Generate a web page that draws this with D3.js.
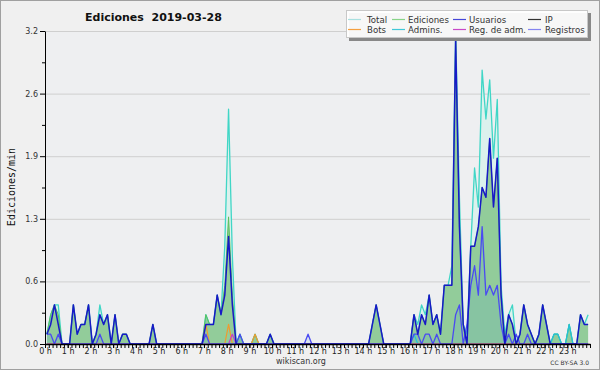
<!DOCTYPE html>
<html>
<head>
<meta charset="utf-8">
<script src="https://cdn.jsdelivr.net/npm/d3@7"></script>
<style>
  body { margin: 0; background: #fff; }
  svg { display: block; }
</style>
</head>
<body>
<svg id="chart" width="600" height="370"></svg>
<script>
// edits per minute, one value per 10 minutes (6 per hour)
let total = [
  .1,.3,.4,.4,0,0,  0,.4,.1,.2,.2,.4,  0,.1,.4,.2,.3,0,  .3,0,.1,.1,0,0,
  0,0,0,0,.2,0,  0,0,0,0,0,0,  0,0,0,0,0,0,  .3,.2,.2,.5,.3,1.0,
  2.4,.9,0,.1,0,0,  0,.1,0,0,0,.1,  0,0,0,0,0,0,  0,0,0,0,0,0,
  0,0,0,0,0,0,  0,0,0,0,0,0,  0,0,.2,.4,.2,0,  0,0,0,0,0,0,
  0,.3,.2,.4,.3,.5,  .2,.3,.1,.6,.6,.8,  3.2,1.5,.2,.1,1.0,1.8,  1.4,2.8,2.3,2.7,1.9,2.5,
  .6,.1,.3,.4,0,.1,  .4,.2,.1,0,.1,.4,  .2,0,.1,.1,0,0,  .2,0,0,.3,.2,.3
];
let edits = [
  .1,.3,.4,.3,0,0,  0,.4,.1,.2,.2,.4,  0,.1,.3,.2,.3,0,  .3,0,.1,.1,0,0,
  0,0,0,0,.2,0,  0,0,0,0,0,0,  0,0,0,0,0,0,  .3,.2,.2,.5,.3,.6,
  1.3,.5,0,.1,0,0,  0,.1,0,0,0,.1,  0,0,0,0,0,0,  0,0,0,0,0,0,
  0,0,0,0,0,0,  0,0,0,0,0,0,  0,0,.2,.4,.2,0,  0,0,0,0,0,0,
  0,.3,.1,.3,.2,.5,  .2,.3,.1,.6,.6,.6,  3.1,1.2,.2,0,1.0,1.0,  1.2,1.6,1.5,2.1,1.4,1.9,
  .5,0,.3,.2,0,.1,  .4,.2,.1,0,.1,.4,  .2,0,.1,.1,0,0,  .2,0,0,.3,.2,.2
];
let users = [
  .1,.2,.4,.2,0,0,  0,.4,.1,.2,.2,.4,  0,.1,.3,.2,.3,0,  .3,0,.1,.1,0,0,
  0,0,0,0,.2,0,  0,0,0,0,0,0,  0,0,0,0,0,0,  .2,.2,.2,.5,.3,.5,
  1.1,.4,0,0,0,0,  0,0,0,0,0,.1,  0,0,0,0,0,0,  0,0,0,0,0,0,
  0,0,0,0,0,0,  0,0,0,0,0,0,  0,0,.2,.4,.2,0,  0,0,0,0,0,0,
  0,.3,.1,.3,.2,.5,  .2,.3,.1,.6,.6,.6,  3.1,1.2,.2,0,1.0,1.0,  1.2,1.6,1.5,2.1,1.4,1.9,
  .5,0,.3,.2,0,.1,  .4,.2,.1,0,.1,.4,  .2,0,0,0,0,0,  0,0,0,.3,.2,.2
];
let ip = [
  .1,.1,0,.1,0,0,  0,0,0,0,0,0,  0,0,.1,0,0,0,  0,0,0,0,0,0,
  0,0,0,0,0,0,  0,0,0,0,0,0,  0,0,0,0,0,0,  .1,0,0,0,0,0,
  0,0,0,.1,0,0,  0,0,0,0,0,0,  0,0,0,0,0,0,  0,0,0,.1,0,0,
  0,0,0,0,0,0,  0,0,0,0,0,0,  0,0,0,0,0,0,  0,0,0,0,0,0,
  0,.1,.1,0,.1,.1,  0,.1,0,0,0,0,  .3,.4,0,.2,.6,.8,  .5,1.2,.5,.6,.5,.6,
  .2,0,.1,0,.1,0,  0,.1,0,0,0,0,  0,0,0,0,0,0,  0,0,0,0,0,0
];
let bots = [
  0,0,0,0,0,0,  0,0,0,0,0,0,  0,0,0,0,0,0,  0,0,0,0,0,0,
  0,0,0,0,0,0,  0,0,0,0,0,0,  0,0,0,0,0,0,  .2,0,0,0,0,0,
  .2,0,0,0,0,0,  0,.1,0,0,0,0,  0,0,0,0,0,0,  0,0,0,0,0,0,
  0,0,0,0,0,0,  0,0,0,0,0,0,  0,0,0,0,0,0,  0,0,0,0,0,0,
  0,0,0,0,0,0,  0,0,0,0,0,0,  0,0,0,0,0,0,  0,0,0,0,0,0,
  0,0,0,0,0,0,  0,0,0,0,0,0,  0,0,0,0,0,0,  0,0,0,0,0,0
];
let admins = [
  0,0,0,0,0,0,  0,0,0,0,0,0,  0,0,0,0,0,0,  0,0,0,0,0,0,
  0,0,0,0,0,0,  0,0,0,0,0,0,  0,0,0,0,0,0,  0,0,0,0,0,0,
  0,0,0,0,0,0,  0,0,0,0,0,0,  0,0,0,0,0,0,  0,0,0,0,0,0,
  0,0,0,0,0,0,  0,0,0,0,0,0,  0,0,0,0,0,0,  0,0,0,0,0,0,
  0,.1,0,0,0,0,  0,0,0,0,0,0,  0,0,0,0,0,0,  0,0,0,0,0,0,
  0,0,0,0,0,0,  0,0,0,0,0,0,  0,0,.1,.1,0,0,  .2,0,0,0,0,0
];
let regAdm = [
  0,0,0,0,0,0,  0,0,0,0,0,0,  0,0,0,0,0,0,  0,0,0,0,0,0,
  0,0,0,0,0,0,  0,0,0,0,0,0,  0,0,0,0,0,0,  0,0,0,0,0,0,
  0,.1,0,0,0,0,  0,0,0,0,0,0,  0,0,0,0,0,0,  0,0,0,0,0,0,
  0,0,0,0,0,0,  0,0,0,0,0,0,  0,0,0,0,0,0,  0,0,0,0,0,0,
  0,0,0,0,0,0,  0,0,0,0,0,0,  0,0,0,0,0,0,  0,0,0,0,0,0,
  0,0,0,0,0,0,  0,0,0,0,0,0,  0,0,0,0,0,0,  0,0,0,0,0,0
];

let yTicks = [0, 0.64, 1.28, 1.92, 2.56, 3.2];
let hours = d3.range(0, 24);
let legendNames = ['Total', 'Ediciones', 'Usuarios', 'IP', 'Bots', 'Admins.', 'Reg. de adm.', 'Registros'];
let legendColors = ['#a8e0e0', '#88d488', '#4646d8', '#333333', '#f5a040', '#40c8d8', '#c848c8', '#8484f0'];

let svg = d3.select('#chart');

// background + frame
svg.append('rect').attr('x', 0.5).attr('y', 0.5).attr('width', 599).attr('height', 369)
  .attr('fill', '#f0f0f0').attr('stroke', '#a0a0a0');

let x = d3.scaleLinear().domain([0, 1440]).range([45, 590]);
let y = d3.scaleLinear().domain([0, 3.2]).range([344, 31]);

svg.append('rect').attr('x', 45).attr('y', 31).attr('width', 545).attr('height', 313).attr('fill', '#eeeff1');

// grid
svg.append('g').selectAll('line').data(yTicks.slice(1)).enter().append('line')
  .attr('x1', 45).attr('x2', 590)
  .attr('y1', d => y(d) + 0.5).attr('y2', d => y(d) + 0.5)
  .attr('stroke', '#cfcfcf');

let tx = (d, i) => x(i * 10 + 5);
let area = d3.area().x(tx).y0(y(0)).y1(d => y(d));
let line = d3.line().x(tx).y(d => y(d));

svg.append('path').datum(total).attr('d', area).attr('fill', '#dcf1ed');
svg.append('path').datum(edits).attr('d', area).attr('fill', '#92cc9a');
svg.append('path').datum(ip).attr('d', area).attr('fill', 'rgba(60,140,220,0.12)');

let drawLine = (data, color, w) => {
  svg.append('path').datum(data).attr('d', line)
    .attr('fill', 'none').attr('stroke', color).attr('stroke-width', w)
    .attr('stroke-linejoin', 'round');
};
drawLine(total, '#40d6c6', 1.3);
drawLine(edits, '#5cc05c', 1);
drawLine(admins, '#22c0dc', 1.2);
drawLine(bots, '#f09a30', 1.2);
drawLine(regAdm, '#c840c8', 1.2);
drawLine(ip, '#4a4af2', 1.3);
drawLine(users, '#1818c8', 1.5);

// y axis
let yAxis = svg.append('g').attr('transform', 'translate(45,0)')
  .call(d3.axisLeft(y).tickValues(yTicks).tickSize(5).tickSizeOuter(0).tickPadding(2)
    .tickFormat(d => d.toFixed(1)));
svg.append('g').attr('transform', 'translate(45,0)')
  .call(d3.axisLeft(y).tickValues(yTicks.slice(1).map(d => d - 0.32)).tickSize(3).tickSizeOuter(0).tickFormat(''))
  .select('.domain').remove();
yAxis.selectAll('text').attr('font-family', 'DejaVu Sans').attr('font-size', 8).attr('fill', '#333');

// x axis
svg.append('g').attr('transform', 'translate(0,344)')
  .call(d3.axisBottom(x).tickValues(d3.range(0, 1441, 10)).tickSize(4).tickSizeOuter(0).tickFormat(''))
  .select('.domain').attr('stroke-width', 1.5);
let xLab = svg.append('g').attr('transform', 'translate(0,344)')
  .call(d3.axisBottom(x).tickValues(hours.map(h => h * 60)).tickSize(4).tickPadding(0)
    .tickFormat(d => (d / 60) + ' h'));
xLab.select('.domain').remove();
xLab.selectAll('text').attr('font-family', 'DejaVu Sans').attr('font-size', 8).attr('fill', '#222');

// titles
svg.append('text').attr('x', 85).attr('y', 21).style('white-space', 'pre')
  .attr('font-family', 'DejaVu Sans').attr('font-weight', 'bold').attr('font-size', 11)
  .attr('fill', '#111').text('Ediciones  2019-03-28');
svg.append('text').attr('transform', 'translate(15,187) rotate(-90)').attr('text-anchor', 'middle')
  .attr('font-family', 'DejaVu Sans Mono').attr('font-size', 10).attr('fill', '#111').text('Ediciones/min');
svg.append('text').attr('x', 301).attr('y', 364).attr('text-anchor', 'middle')
  .attr('font-family', 'DejaVu Sans').attr('font-size', 8).attr('fill', '#333').text('wikiscan.org');
svg.append('text').attr('x', 589).attr('y', 364.5).attr('text-anchor', 'end')
  .attr('font-family', 'DejaVu Sans').attr('font-size', 6).attr('fill', '#333').text('CC BY-SA 3.0');

// legend
let colX = [348, 392, 453, 528];
let textOff = [19, 16, 16, 17];
let legend = svg.append('g');
legend.append('rect').attr('x', 349).attr('y', 13).attr('width', 242).attr('height', 28).attr('fill', '#888');
legend.append('rect').attr('x', 346.5).attr('y', 10.5).attr('width', 241).attr('height', 27)
  .attr('fill', 'rgba(255,255,255,0.93)').attr('stroke', '#c8c8c8');
let items = legend.selectAll('g.item').data(legendNames).enter().append('g')
  .attr('transform', (d, i) => `translate(${colX[i % 4]},${i < 4 ? 19 : 29})`);
items.append('line').attr('x1', 0).attr('x2', 13).attr('y1', 0.5).attr('y2', 0.5)
  .attr('stroke', (d, i) => legendColors[i]).attr('stroke-width', 1.2);
items.append('text').attr('x', (d, i) => textOff[i % 4]).attr('y', 3.5)
  .attr('font-family', 'DejaVu Sans').attr('font-size', 8.6).attr('fill', '#333').text(d => d);
</script>
</body>
</html>
